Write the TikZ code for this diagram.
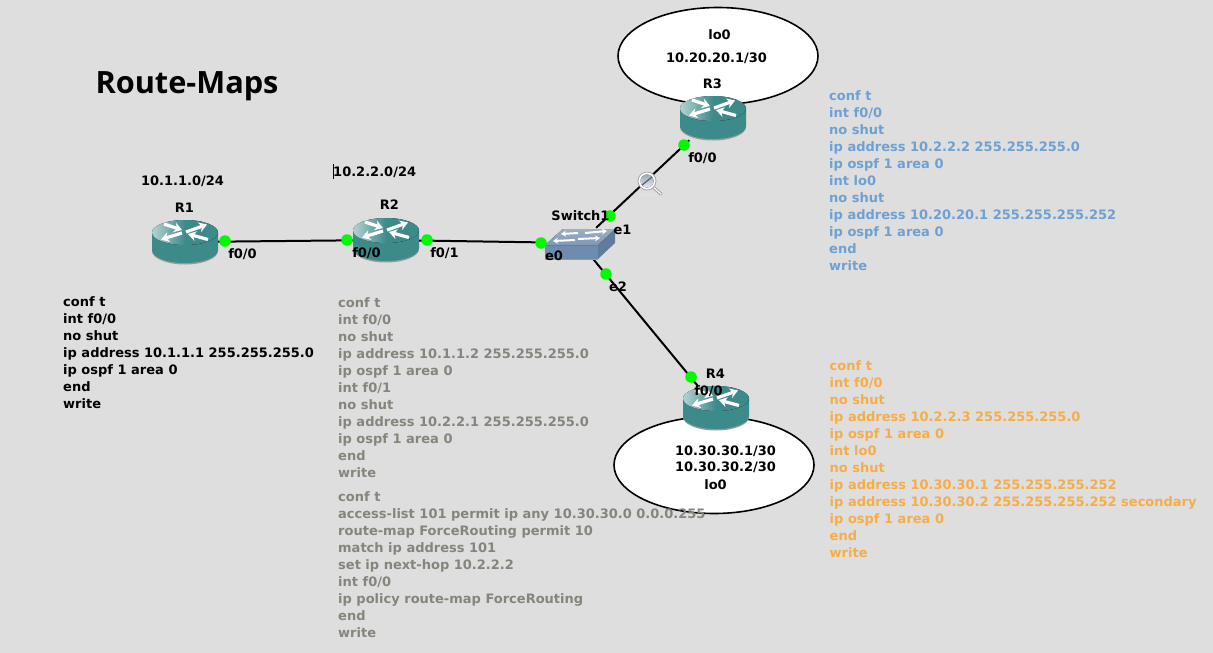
\documentclass[tikz,border=0pt]{standalone}
\usepackage{fontspec}
\setmainfont{DejaVu Sans}
\newfontfamily\titlefont{Open Sans}
\usetikzlibrary{backgrounds,arrows.meta,shapes.geometric}
\definecolor{bgc}{HTML}{DEDEDE}
\definecolor{grayt}{HTML}{85857D}
\definecolor{bluet}{HTML}{6FA0D2}
\definecolor{oranget}{HTML}{F5AD48}
\definecolor{teal1}{HTML}{3D8A8A}
\definecolor{teal2}{HTML}{B4D2D2}
\definecolor{greendot}{HTML}{00FA00}
\definecolor{swtop}{HTML}{9DB0C4}
\definecolor{swtopb}{HTML}{7D97B5}
\definecolor{swfront}{HTML}{6F8CAE}
\definecolor{swside}{HTML}{5F7C9C}
\tikzset{
  x=1pt,y=1pt,
  every node/.style={font=\bfseries\fontsize{13}{17}\selectfont,inner sep=0pt},
  cfg/.style={anchor=north west,align=left},
  dot/.style={circle,fill=greendot,minimum size=11.5pt},
  link/.style={draw=black,line width=2pt},
  loope/.style={ellipse,draw=black,fill=white,line width=1.6pt,minimum width=200pt,minimum height=97pt},
  box/.style={minimum width=66pt,minimum height=44pt},
  swbox/.style={minimum width=71pt,minimum height=30pt},
  arr/.style={white,line width=3.2pt,-{Stealth[length=8pt,width=10pt]}},
  sarr/.style={white,line width=2pt,-{Stealth[length=5pt,width=6pt]}},
  router/.pic={
    \fill[black!40] (-33,-9) arc[start angle=180,end angle=360,x radius=33,y radius=13.5] -- cycle;
    \fill[teal1] (-33,9) -- (-33,-8) arc[start angle=180,end angle=360,x radius=33,y radius=13] -- (33,9) -- cycle;
    \fill[left color=teal2,right color=teal1,middle color=teal1] (0,9.5) ellipse[x radius=33,y radius=12.5];
    \draw[arr] (-21,18) -- (-3,12);
    \draw[arr] (1,10) -- (22,17.5);
    \draw[arr] (-3,9) -- (-24,2.5);
    \draw[arr] (23,2.5) -- (3,8);
  },
  switch/.pic={
    \fill[black!40] (-35,-17) rectangle (18,-15);
    \fill[swside] (18,-2) -- (35,14) -- (35,0) -- (18,-16) -- cycle;
    \fill[swfront] (-35,-2) rectangle (18,-16);
    \fill[top color=swtop,bottom color=swtopb] (-35,-2) -- (-17,14) -- (35,14) -- (18,-2) -- cycle;
    \draw[sarr] (-2,10) -- (-19,9);
    \draw[sarr] (5,10) -- (27,12);
    \draw[sarr] (-5,3) -- (-27,2);
    \draw[sarr] (-2,4) -- (20,5);
  },
  glass/.pic={
    \fill[black!12] (1,-14) ellipse[x radius=9,y radius=2.5];
    \draw[black!45,line width=3pt,line cap=round] (6,-6) -- (14,-13);
    \draw[black!6,line width=1.6pt,line cap=round] (6,-6) -- (14,-13);
    \fill[white] (0,0) circle[radius=9];
    \draw[black!35,line width=0.8pt] (0,0) circle[radius=9];
    \fill[top color=blue!40!cyan!30!black!40,bottom color=blue!10!white] (0,0) circle[radius=6.5];
    \draw[black!60,line width=1.4pt] (-5,-4) -- (5,4);
  },
}
\begin{document}
\begin{tikzpicture}
\useasboundingbox (0,0) rectangle (1213,-653);
% devices
\node[loope] (L3) at (718,-56) {};
\node[loope] (L4) at (714,-465) {};
\node[box] (R1) at (185,-242) {};
\node[box] (R2) at (386,-240) {};
\node[box] (R3) at (713,-118) {};
\node[box] (R4) at (716,-408) {};
\node[swbox] (SW) at (580,-243) {};
\begin{scope}[on background layer]
\fill[bgc] (0,0) rectangle (1213,-653);
\draw[link] (R1) -- (R2);
\draw[link] (R2) -- (SW);
\draw[link] (SW) -- (R3);
\draw[link] (SW) -- (R4);
\end{scope}
\pic at (R1) {router};
\pic at (R2) {router};
\pic at (R3) {router};
\pic at (R4) {router};
\pic at (SW) {switch};
\node[minimum size=18pt] (MG) at (647,-181) {};
\pic at (MG) {glass};
% interface dots
\node[dot] (d1) at (225,-241) {};
\node[dot] (d2) at (347,-240) {};
\node[dot] (d3) at (427,-240) {};
\node[dot] (d4) at (541,-243) {};
\node[dot] (d5) at (610,-216) {};
\node[dot] (d6) at (684,-145) {};
\node[dot] (d7) at (606,-274) {};
\node[dot] (d8) at (691,-377) {};
% labels
\node at (184.5,-208) {R1};
\node at (389.5,-205) {R2};
\node at (712.5,-84) {R3};
\node at (715.5,-374) {R4};
\node at (580.5,-216) {Switch1};
\node at (182.5,-181) {10.1.1.0/24};
\node[anchor=west] (net2) at (333,-172) {10.2.2.0/24};
\draw[black,line width=0.8pt] (333.5,-164) -- (333.5,-179);
\node at (242.5,-254) {f0/0};
\node at (366.5,-253) {f0/0};
\node at (444.5,-253) {f0/1};
\node at (554,-256) {e0};
\node at (622.5,-230) {e1};
\node at (618,-287) {e2};
\node at (702.5,-158) {f0/0};
\node at (708.5,-391) {f0/0};
\node at (719.5,-34.5) {lo0};
\node at (716.5,-58) {10.20.20.1/30};
\node at (725.5,-451) {10.30.30.1/30};
\node at (725.5,-467) {10.30.30.2/30};
\node at (715.5,-484.5) {lo0};
\node[anchor=base,font=\titlefont\bfseries\fontsize{30.7}{36}\selectfont] at (187,-93) {Route-Maps};
% configurations
\node[cfg] at (63,-296.5) {conf t\\int f0/0\\no shut\\ip address 10.1.1.1 255.255.255.0\\ip ospf 1 area 0\\end\\write};
\node[cfg,text=grayt] at (338,-297.5) {conf t\\int f0/0\\no shut\\ip address 10.1.1.2 255.255.255.0\\ip ospf 1 area 0\\int f0/1\\no shut\\ip address 10.2.2.1 255.255.255.0\\ip ospf 1 area 0\\end\\write};
\node[cfg,text=grayt] at (338,-491.5) {conf t\\access-list 101 permit ip any 10.30.30.0 0.0.0.255\\route-map ForceRouting permit 10\\match ip address 101\\set ip next-hop 10.2.2.2\\int f0/0\\ip policy route-map ForceRouting\\end\\write};
\node[cfg,text=bluet] at (829,-90.5) {conf t\\int f0/0\\no shut\\ip address 10.2.2.2 255.255.255.0\\ip ospf 1 area 0\\int lo0\\no shut\\ip address 10.20.20.1 255.255.255.252\\ip ospf 1 area 0\\end\\write};
\node[cfg,text=oranget] at (829.5,-360.5) {conf t\\int f0/0\\no shut\\ip address 10.2.2.3 255.255.255.0\\ip ospf 1 area 0\\int lo0\\no shut\\ip address 10.30.30.1 255.255.255.252\\ip address 10.30.30.2 255.255.255.252 secondary\\ip ospf 1 area 0\\end\\write};
\end{tikzpicture}
\end{document}
